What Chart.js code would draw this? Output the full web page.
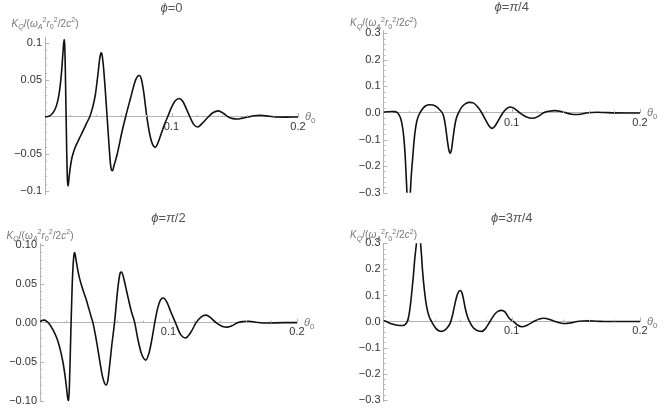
<!DOCTYPE html>
<html>
<head>
<meta charset="utf-8">
<script src="https://cdn.jsdelivr.net/npm/chart.js@4.4.1/dist/chart.umd.min.js"></script>
<style>
  body { margin: 0; background: #fff; }
  canvas { position: absolute; }
</style>
</head>
<body>
<canvas id="p0" width="332" height="205" style="left:0;top:0"></canvas>
<canvas id="p1" width="332" height="205" style="left:332px;top:0"></canvas>
<canvas id="p2" width="332" height="206" style="left:0;top:205px"></canvas>
<canvas id="p3" width="332" height="206" style="left:332px;top:205px"></canvas>

<script>
  // 그림에서 읽은 값: θ0 와 K_Q/(ωA² r0²/2c²)
  // ϕ=0
  const theta_0 = [0, 0.003, 0.0055, 0.0075, 0.009, 0.0106, 0.012, 0.0132, 0.0142, 0.0148, 0.0152, 0.0156,
    0.016, 0.0164, 0.0168, 0.0172, 0.0176, 0.018, 0.0184, 0.019, 0.02, 0.0213, 0.0232, 0.0252, 0.028, 0.0305,
    0.033, 0.0353, 0.0375, 0.0398, 0.042, 0.0432, 0.044, 0.0446, 0.0453, 0.0462, 0.0475, 0.0491, 0.0507, 0.0518,
    0.0527, 0.0534, 0.0545, 0.0571, 0.061, 0.0637, 0.0677, 0.071, 0.073, 0.0746, 0.0762, 0.078, 0.0805, 0.083,
    0.085, 0.0872, 0.0895, 0.092, 0.0945, 0.0969, 0.1, 0.103, 0.106, 0.109, 0.112, 0.1146, 0.1175, 0.1207,
    0.124, 0.129, 0.133, 0.137, 0.141, 0.145, 0.1485, 0.152, 0.156, 0.1607, 0.165, 0.17, 0.175, 0.18, 0.19, 0.2];
  const K_0 = [0, 0.001, 0.004, 0.009, 0.015, 0.026, 0.042, 0.063, 0.087, 0.1, 0.1045, 0.097,
    0.07, 0.03, -0.01, -0.05, -0.08, -0.093, -0.092, -0.082, -0.068, -0.055, -0.044, -0.036, -0.026, -0.017,
    -0.008, 0, 0.012, 0.03, 0.06, 0.078, 0.0855, 0.0865, 0.082, 0.068, 0.04, 0, -0.04, -0.064,
    -0.072, -0.0725, -0.066, -0.05, -0.019, 0, 0.026, 0.047, 0.0545, 0.056, 0.051, 0.034, 0, -0.025,
    -0.037, -0.041, -0.034, -0.022, -0.01, 0, 0.013, 0.022, 0.025, 0.021, 0.01, 0, -0.01, -0.0136,
    -0.009, 0, 0.006, 0.0082, 0.005, 0, -0.0022, -0.0028, -0.0015, 0, 0.0017, 0.0022, 0.0015, 0.0003, -0.0002, 0];

  // ϕ=π/4
  const theta_pi4 = [0, 0.003, 0.006, 0.0085, 0.0105, 0.012, 0.0132, 0.0142, 0.0152, 0.0161, 0.017, 0.0177,
    0.0183, 0.0196, 0.0209, 0.0216, 0.0224, 0.0234, 0.0245, 0.0258, 0.027, 0.0284, 0.0305, 0.033, 0.036, 0.0385,
    0.0415, 0.044, 0.0459, 0.0472, 0.0485, 0.0497, 0.051, 0.052, 0.053, 0.0542, 0.0555, 0.0568, 0.0584, 0.061,
    0.064, 0.067, 0.07, 0.073, 0.0767, 0.08, 0.0825, 0.0845, 0.0865, 0.089, 0.093, 0.096, 0.0985, 0.101,
    0.104, 0.1063, 0.111, 0.1167, 0.121, 0.1245, 0.129, 0.1336, 0.138, 0.1427, 0.1465, 0.1505, 0.1545, 0.158,
    0.1625, 0.167, 0.172, 0.18, 0.19, 0.2];
  const K_pi4 = [0.003, 0.0045, 0.0055, 0.005, 0.002, -0.006, -0.018, -0.036, -0.065, -0.106, -0.17, -0.24,
    -0.3, -0.42, -0.3, -0.24, -0.19, -0.13, -0.075, -0.035, -0.014, 0, 0.016, 0.027, 0.031, 0.03,
    0.023, 0.011, 0, -0.018, -0.055, -0.1, -0.14, -0.152, -0.138, -0.095, -0.05, -0.02, 0, 0.022,
    0.035, 0.04, 0.038, 0.025, 0, -0.03, -0.05, -0.058, -0.052, -0.033, 0, 0.016, 0.0224, 0.02,
    0.01, 0, -0.014, -0.0199, -0.012, 0, 0.0065, 0.009, 0.006, 0, -0.0045, -0.006, -0.004, 0,
    0.002, 0.0025, 0.0018, 0.0003, 0, 0];

  // ϕ=π/2
  const theta_pi2 = [0, 0.002, 0.0034, 0.005, 0.0073, 0.01, 0.0125, 0.0145, 0.0164, 0.0182, 0.0198, 0.021,
    0.0218, 0.0223, 0.0228, 0.0235, 0.0242, 0.025, 0.0258, 0.0265, 0.027, 0.0277, 0.029, 0.0307, 0.033, 0.0359,
    0.038, 0.0398, 0.0412, 0.044, 0.0463, 0.0485, 0.0503, 0.0516, 0.0528, 0.0542, 0.0558, 0.058, 0.06, 0.0615,
    0.0625, 0.0635, 0.065, 0.0668, 0.0685, 0.071, 0.0737, 0.076, 0.079, 0.0823, 0.085, 0.087, 0.0893, 0.0915,
    0.0937, 0.0959, 0.0985, 0.102, 0.1054, 0.109, 0.1132, 0.1175, 0.1215, 0.1255, 0.1292, 0.133, 0.137, 0.1415,
    0.146, 0.15, 0.1537, 0.158, 0.1623, 0.168, 0.175, 0.19, 0.2];
  const K_pi2 = [0.0012, 0.003, 0.0033, 0.002, -0.0017, -0.009, -0.0175, -0.027, -0.039, -0.054, -0.072, -0.089,
    -0.099, -0.1, -0.085, -0.045, 0, 0.045, 0.075, 0.088, 0.09, 0.084, 0.071, 0.0575, 0.044, 0.03,
    0.018, 0.0075, 0, -0.024, -0.047, -0.068, -0.078, -0.08, -0.074, -0.055, -0.03, 0, 0.035, 0.056,
    0.064, 0.065, 0.058, 0.045, 0.0325, 0.015, 0, -0.02, -0.04, -0.048, -0.038, -0.022, 0, 0.018,
    0.029, 0.0316, 0.027, 0.013, 0, -0.014, -0.0195, -0.012, 0, 0.0075, 0.0096, 0.006, 0, -0.0045,
    -0.0058, -0.0035, 0, 0.0014, 0.0017, 0.0006, -0.0005, 0, 0];

  // ϕ=3π/4
  const theta_3pi4 = [0, 0.003, 0.0061, 0.009, 0.0125, 0.0153, 0.017, 0.0182, 0.0192, 0.0205, 0.0218, 0.0232,
    0.0245, 0.0257, 0.0273, 0.0289, 0.0297, 0.0304, 0.032, 0.0336, 0.0355, 0.0375, 0.041, 0.0435, 0.0453, 0.0475,
    0.05, 0.052, 0.054, 0.0558, 0.0575, 0.059, 0.06, 0.0612, 0.0625, 0.0637, 0.0655, 0.0676, 0.07, 0.073,
    0.0767, 0.0795, 0.082, 0.0845, 0.087, 0.0895, 0.092, 0.0945, 0.097, 0.0988, 0.1014, 0.1045, 0.108, 0.112,
    0.1171, 0.121, 0.125, 0.129, 0.134, 0.138, 0.1418, 0.146, 0.151, 0.1555, 0.16, 0.166, 0.175, 0.19, 0.2];
  const K_3pi4 = [0.004, -0.002, -0.0087, -0.0125, -0.0148, -0.015, -0.011, -0.003, 0.01, 0.045, 0.1, 0.17,
    0.247, 0.3, 0.4, 0.3, 0.25, 0.197, 0.115, 0.058, 0.02, 0, -0.027, -0.036, -0.0375, -0.034,
    -0.022, -0.006, 0.028, 0.07, 0.103, 0.117, 0.119, 0.11, 0.083, 0.052, 0.018, -0.005, -0.024, -0.034,
    -0.0375, -0.027, -0.008, 0.012, 0.03, 0.04, 0.043, 0.038, 0.02, 0.0087, 0, -0.013, -0.02, -0.014,
    0, 0.009, 0.0125, 0.009, 0, -0.0055, -0.0075, -0.005, 0, 0.002, 0.0025, 0.0015, 0, 0, 0];

  // 눈금
  const xTicks = [0.1, 0.2];
  const xTickLabels = ['0.1', '0.2'];
  const yTicksSmall = [-0.1, -0.05, 0.05, 0.1];
  const yLabelsSmall = ['\u22120.1', '\u22120.05', '0.05', '0.1'];
  const yTicksWide = [-0.3, -0.2, -0.1, 0, 0.1, 0.2, 0.3];
  const yLabelsWide = ['\u22120.3', '\u22120.2', '\u22120.1', '0.0', '0.1', '0.2', '0.3'];
  const yTicksMid = [-0.1, -0.05, 0, 0.05, 0.1];
  const yLabelsMid = ['\u22120.10', '\u22120.05', '0.00', '0.05', '0.10'];

  const FAM = '"Liberation Sans", Arial, sans-serif';
  const AXIS = '#b3b3b3';

  // 이탤릭/첨자가 섞인 텍스트
  function richText(ctx, parts, x, y, size, align) {
    const fontFor = st => (st.includes('i') ? 'italic ' : '') +
      ((st.includes('sub') || st.includes('sup')) ? size * 0.72 : size) + 'px ' + FAM;
    let w = 0;
    for (const [t, st] of parts) { ctx.font = fontFor(st); w += ctx.measureText(t).width; }
    let cx = align === 'center' ? x - w / 2 : x;
    ctx.textAlign = 'left';
    ctx.textBaseline = 'alphabetic';
    for (const [t, st] of parts) {
      ctx.font = fontFor(st);
      const dy = st.includes('sub') ? size * 0.28 : st.includes('sup') ? -size * 0.42 : 0;
      ctx.fillText(t, cx, y + dy);
      cx += ctx.measureText(t).width;
    }
  }

  const yLabelParts = [['K', 'i'], ['Q', 'isub'], ['/(', ''], ['\u03C9', 'i'], ['A', 'isub'], ['2', 'sup'],
    ['r', 'i'], ['0', 'sub'], ['2', 'sup'], ['/2', ''], ['c', 'i'], ['2', 'sup'], [')', '']];
  const xLabelParts = [['\u03B8', 'i'], ['0', 'sub']];

  // 안쪽 눈금, 제목, 축 이름
  const decor = {
    id: 'decor',
    afterDraw(chart, args, o) {
      const { ctx, chartArea: a, scales: { x, y } } = chart;
      const y0 = y.getPixelForValue(0);
      ctx.save();
      ctx.strokeStyle = AXIS;
      ctx.lineWidth = 1;
      ctx.beginPath();
      for (let k = Math.ceil(y.min / o.yMinor - 1e-6); k * o.yMinor <= y.max + 1e-9; k++) {
        const v = k * o.yMinor;
        if (Math.abs(v) < 1e-9) continue;
        const major = Math.abs(v / o.yMajor - Math.round(v / o.yMajor)) < 1e-6;
        const py = Math.round(y.getPixelForValue(v)) + 0.5;
        ctx.moveTo(a.left, py);
        ctx.lineTo(a.left + (major ? 4 : 2), py);
      }
      for (let k = 1; k * 0.02 <= x.max + 1e-9; k++) {
        const v = k * 0.02;
        const major = k % 5 === 0;
        const px = Math.round(x.getPixelForValue(v)) + 0.5;
        ctx.moveTo(px, y0);
        ctx.lineTo(px, y0 - (major ? 4 : 2));
      }
      ctx.stroke();

      ctx.fillStyle = '#555';
      richText(ctx, o.title, (a.left + a.right) / 2, o.titleY, 13, 'center');
      ctx.fillStyle = '#777';
      richText(ctx, yLabelParts, a.left, o.labelY, 10, 'center');
      richText(ctx, xLabelParts, a.right + 7, y0 + 3, 11, 'left');
      ctx.restore();
    }
  };

  function makePanel(id, cfg) {
    const canvas = document.getElementById(id);
    return new Chart(canvas, {
      type: 'line',
      data: {
        datasets: [{
          data: cfg.theta.map((t, i) => ({ x: t, y: cfg.k[i] })),
          borderColor: '#111',
          borderWidth: 1.6,
          pointRadius: 0,
          fill: false,
          cubicInterpolationMode: 'monotone',
          clip: 0
        }]
      },
      options: {
        responsive: false,
        animation: false,
        events: [],
        layout: {
          padding: { left: 0, top: cfg.area.top, right: canvas.width - cfg.area.right, bottom: canvas.height - cfg.area.bottom }
        },
        plugins: {
          legend: { display: false },
          tooltip: { enabled: false },
          decor: { title: cfg.title, titleY: cfg.titleY, labelY: cfg.labelY, yMinor: cfg.yMinor, yMajor: cfg.yMajor }
        },
        scales: {
          x: {
            type: 'linear',
            min: 0,
            max: 0.2,
            position: { y: 0 },
            afterBuildTicks: s => { s.ticks = xTicks.map(v => ({ value: v })); },
            afterFit: s => { s.height = 0; },
            grid: { drawOnChartArea: false, drawTicks: false },
            border: { color: AXIS },
            ticks: {
              autoSkip: false, maxRotation: 0, padding: 3, color: '#333',
              font: { family: FAM, size: 11 },
              callback: (v, i) => xTickLabels[i]
            }
          },
          y: {
            type: 'linear',
            min: cfg.ymin,
            max: cfg.ymax,
            position: 'left',
            afterBuildTicks: s => { s.ticks = cfg.yTicks.map(v => ({ value: v })); },
            afterFit: s => { s.width = cfg.area.left; },
            grid: { drawOnChartArea: false, drawTicks: false },
            border: { color: AXIS },
            ticks: {
              autoSkip: false, padding: 3, color: '#333',
              font: { family: FAM, size: 11 },
              callback: (v, i) => cfg.yLabels[i]
            }
          }
        }
      },
      plugins: [decor]
    });
  }

  makePanel('p0', {
    theta: theta_0, k: K_0, ymin: -0.104, ymax: 0.108,
    yTicks: yTicksSmall, yLabels: yLabelsSmall, yMinor: 0.01, yMajor: 0.05,
    area: { left: 45, right: 298, top: 37, bottom: 194 },
    title: [['\u03D5', 'i'], ['=0', '']], titleY: 11.5, labelY: 26.5
  });
  makePanel('p1', {
    theta: theta_pi4, k: K_pi4, ymin: -0.3, ymax: 0.31,
    yTicks: yTicksWide, yLabels: yLabelsWide, yMinor: 0.02, yMajor: 0.1,
    area: { left: 51.5, right: 308, top: 30.6, bottom: 192.7 },
    title: [['\u03D5', 'i'], ['=', ''], ['\u03C0', 'i'], ['/4', '']], titleY: 10.5, labelY: 26
  });
  makePanel('p2', {
    theta: theta_pi2, k: K_pi2, ymin: -0.101, ymax: 0.101,
    yTicks: yTicksMid, yLabels: yLabelsMid, yMinor: 0.01, yMajor: 0.05,
    area: { left: 40, right: 297, top: 38.9, bottom: 200.5 },
    title: [['\u03D5', 'i'], ['=', ''], ['\u03C0', 'i'], ['/2', '']], titleY: 17, labelY: 33.5
  });
  makePanel('p3', {
    theta: theta_3pi4, k: K_3pi4, ymin: -0.306, ymax: 0.3,
    yTicks: yTicksWide, yLabels: yLabelsWide, yMinor: 0.02, yMajor: 0.1,
    area: { left: 51.5, right: 308, top: 38.3, bottom: 201.6 },
    title: [['\u03D5', 'i'], ['=3', ''], ['\u03C0', 'i'], ['/4', '']], titleY: 16.5, labelY: 33
  });
</script>
</body>
</html>
